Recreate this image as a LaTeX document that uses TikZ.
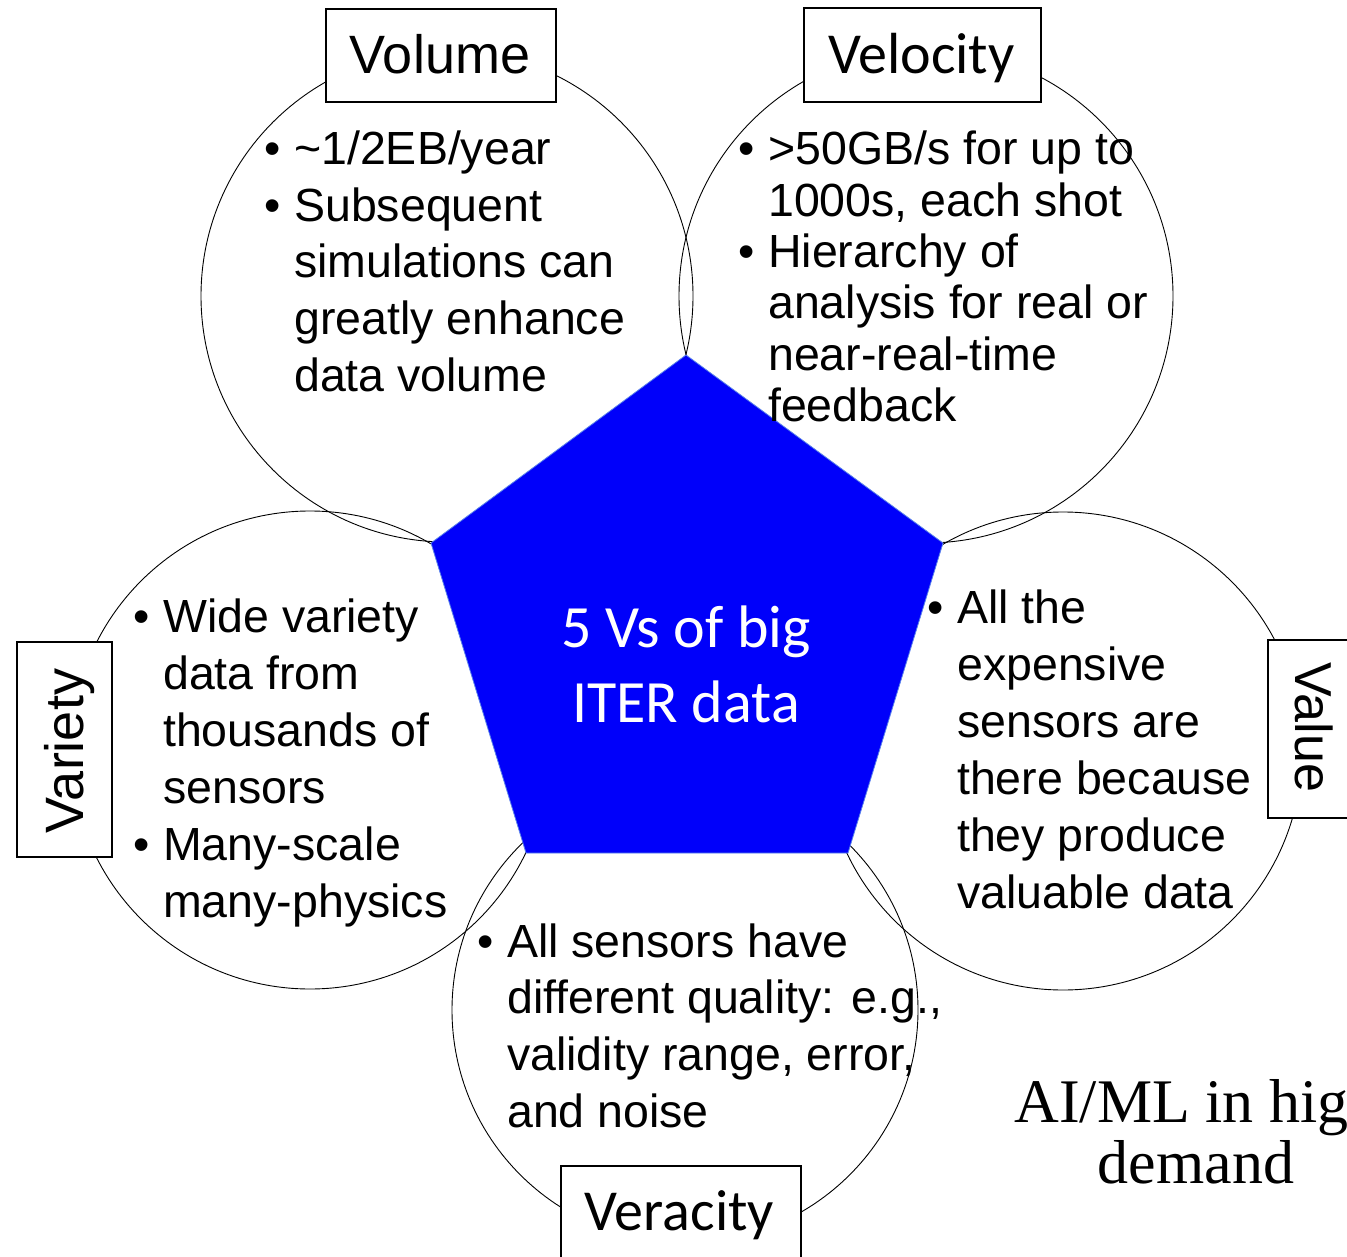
\documentclass[tikz,border=0pt]{standalone}
\usepackage{fontspec}
\setmainfont{Liberation Sans}
\newfontfamily\carlito{Carlito}
\newfontfamily\tnr{Liberation Serif}
\definecolor{pentblue}{RGB}{0,0,250}
\definecolor{pentedge}{RGB}{90,130,235}
\begin{document}
\begin{tikzpicture}[x=1pt,y=-1pt,
  ring/.style={circle, draw, inner sep=0pt, line width=0.9pt},
  labbox/.style={draw, fill=white, line width=1.3pt, inner sep=0pt},
  labtxt/.style={anchor=base, inner sep=0pt, font=\fontsize{54}{60}\selectfont},
  labtxtc/.style={anchor=base, inner sep=0pt, font=\carlito\fontsize{58}{64}\selectfont},
  body/.style={anchor=base west, inner sep=0pt, font=\fontsize{46.5}{52}\selectfont},
  core/.style={anchor=base, inner sep=0pt, text=white, font=\carlito\fontsize{60}{64}\selectfont},
  note/.style={anchor=base, inner sep=0pt, font=\tnr\fontsize{62}{64}\selectfont}]
\useasboundingbox (0,0) rectangle (1347,1257);
\clip (0,0) rectangle (1347,1257);
% circles
\node[ring, minimum size=492pt] (cvol) at (447,296) {};
\node[ring, minimum size=494pt] (cvel) at (926,296) {};
\node[ring, minimum size=478pt] (cvar) at (310,750) {};
\node[ring, minimum size=478pt] (cval) at (1063,751) {};
\node[ring, minimum size=466pt] (cver) at (685,1010) {};
% pentagon
\coordinate (pT) at (686,355);
\coordinate (pR) at (943,543);
\coordinate (pBR) at (848,853);
\coordinate (pBL) at (526,853);
\coordinate (pL) at (431,543);
\fill[pentblue, draw=pentedge, line width=0.8pt] (pT) -- (pR) -- (pBR) -- (pBL) -- (pL) -- cycle;
\node[core] (core1) at (686,647) {5 Vs of big};
\node[core] (core2) at (686,722) {ITER data};
% label boxes
\node[labbox, minimum width=230pt, minimum height=93pt] (bvol) at (441,55.5) {};
\node[labtxt] (tvol) at (440,74) {Volume};
\node[labbox, minimum width=237pt, minimum height=94pt] (bvel) at (922.5,55) {};
\node[labtxtc] (tvel) at (921.5,74) {Velocity};
\node[labbox, minimum width=95pt, minimum height=215pt] (bvar) at (64.5,749.5) {};
\node[labtxt, rotate=90] (tvar) at (83,751) {Variety};
\node[labbox, minimum width=93pt, minimum height=178pt] (bval) at (1314.5,729) {};
\node[labtxt, rotate=-90, font=\fontsize{52}{60}\selectfont] (tval) at (1295,727.5) {Value};
\node[labbox, minimum width=240pt, minimum height=93pt] (bver) at (681,1212.5) {};
\node[labtxtc] (tver) at (679.5,1230) {Veracity};
% Volume text
\node[body] (volb1) at (264,165) {•};
\node[body] (volb2) at (264,221.5) {•};
\foreach \t [count=\i] in {{\textasciitilde 1/2EB/year},{Subsequent},{simulations can},{greatly enhance},{data volume}}
  \node[body] (vol\i) at (294,{165+56.5*(\i-1)}) {\t};
% Velocity text
\node[body] (velb1) at (738,165) {•};
\node[body] (velb2) at (738,267.6) {•};
\foreach \t [count=\i] in {{>50GB/s for up to},{1000s, each shot},{Hierarchy of},{analysis for real or},{near-real-time},{feedback}}
  \node[body] (vel\i) at (768,{165+51.3*(\i-1)}) {\t};
% Variety text
\node[body] (varb1) at (133,632) {•};
\node[body] (varb2) at (133,860) {•};
\foreach \t [count=\i] in {{Wide variety},{data from},{thousands of},{sensors},{Many-scale},{many-physics}}
  \node[body] (var\i) at (163,{632+57*(\i-1)}) {\t};
% Value text
\node[body] (valb1) at (927,623) {•};
\foreach \t [count=\i] in {{All the},{expensive},{sensors are},{there because},{they produce},{valuable data}}
  \node[body] (val\i) at (957,{623+57*(\i-1)}) {\t};
% Veracity text
\node[body] (verb1) at (477,957) {•};
\foreach \t [count=\i] in {{All sensors have},{different quality: e.g.,},{validity range, error,},{and noise}}
  \node[body] (ver\i) at (507,{957+56.7*(\i-1)}) {\t};
% note
\node[note] (note1) at (1197,1122) {AI/ML in high};
\node[note] (note2) at (1196,1183) {demand};
\end{tikzpicture}
\end{document}
